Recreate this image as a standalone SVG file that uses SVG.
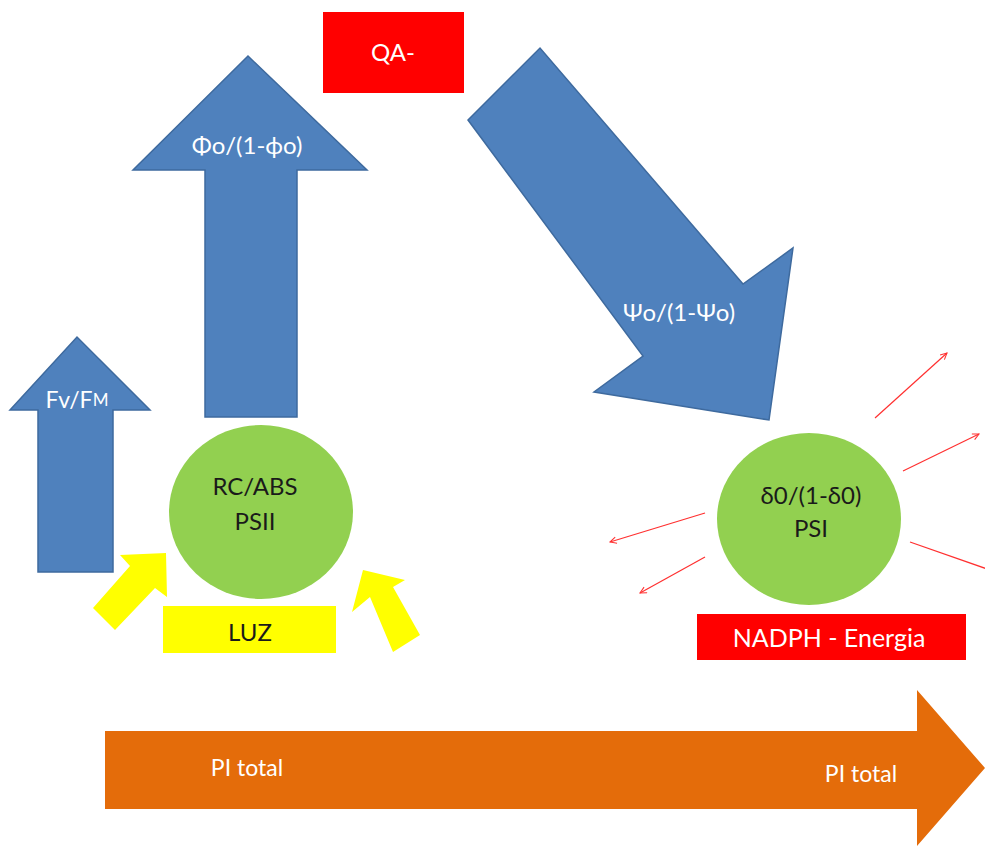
<svg xmlns="http://www.w3.org/2000/svg" width="985" height="846" viewBox="0 0 985 846">
<style>
.blue{fill:#4F81BD;stroke:#3E6A9E;stroke-width:1.5;stroke-linejoin:miter}
.green{fill:#92D050}
.yellow{fill:#FFFF00}
.red{fill:#FF0000}
.orange{fill:#E46C0A}
.t{font-family:Lato,"Liberation Sans",sans-serif;text-anchor:middle;dominant-baseline:central}
.w{fill:#FFFFFF}
.k{fill:#1A1A1A}
.ray{stroke:#FF3030;stroke-width:1.2;fill:none;marker-end:url(#open)}
</style>
<defs>
<marker id="open" viewBox="0 0 10 10" refX="9" refY="5" markerWidth="8" markerHeight="8" orient="auto" markerUnits="userSpaceOnUse">
<path d="M1,1 L9,5 L1,9" fill="none" stroke="#FF3030" stroke-width="1.3"/>
</marker>
</defs>
<rect width="985" height="846" fill="#FFFFFF"/>

<g id="pi-total">
<polygon class="orange" points="105,731 917,731 917,690 985,768 917,846 917,809 105,809"/>
<text class="t w" x="247" y="767" font-size="23">PI total</text>
<text class="t w" x="861" y="773" font-size="23">PI total</text>
</g>

<g id="fvfm">
<polygon class="blue" points="38,572 38,410 10,410 77,337 150,410 113,410 113,572"/>
<text class="t w" x="77" y="399" font-size="23">Fv/F<tspan font-size="17">M</tspan></text>
</g>

<g id="phi">
<polygon class="blue" points="205,417 205,170 133,170 248,56 367,170 297,170 297,417"/>
<text class="t w" x="247" y="144" font-size="24">Φo/(1-ϕo)</text>
</g>

<g id="qa">
<rect class="red" x="323" y="12" width="141" height="81"/>
<text class="t w" x="393" y="51" font-size="24">QA-</text>
</g>

<g id="psi-arrow">
<polygon class="blue" points="468,120 540,48 743,284 793,248 769,420 594,392 643,356"/>
<text class="t w" x="679" y="311" font-size="24">Ψo/(1-Ψo)</text>
</g>

<g id="psii">
<ellipse class="green" cx="261" cy="512" rx="92" ry="87"/>
<text class="t k" x="255" y="485" font-size="24">RC/ABS</text>
<text class="t k" x="255" y="520" font-size="24">PSII</text>
</g>

<g id="luz">
<rect class="yellow" x="163" y="606" width="173" height="47"/>
<text class="t k" x="250" y="631" font-size="24">LUZ</text>
</g>

<g id="light-left">
<polygon class="yellow" points="166,553 167,597 155,588 115,630 93,608 130,566 120,555"/>
</g>
<g id="light-right">
<polygon class="yellow" points="352,612 370,597 393,652 420,635 393,587 405,580 363,570"/>
</g>

<g id="psi">
<ellipse class="green" cx="809" cy="519" rx="92" ry="86"/>
<text class="t k" x="811" y="494" font-size="24">δ0/(1-δ0)</text>
<text class="t k" x="811" y="527" font-size="24">PSI</text>
</g>

<g id="nadph">
<rect class="red" x="697" y="614" width="269" height="46"/>
<text class="t w" x="829" y="637" font-size="25">NADPH - Energia</text>
</g>

<g id="connectors">
<line class="ray" x1="875" y1="418" x2="947" y2="353"/>
<line class="ray" x1="903" y1="471" x2="979" y2="434"/>
<line class="ray" x1="705" y1="513" x2="610" y2="542"/>
<line class="ray" x1="705" y1="557" x2="640" y2="593"/>
<line x1="910" y1="542" x2="990" y2="570" stroke="#FF3030" stroke-width="1.2"/>
</g>
</svg>
